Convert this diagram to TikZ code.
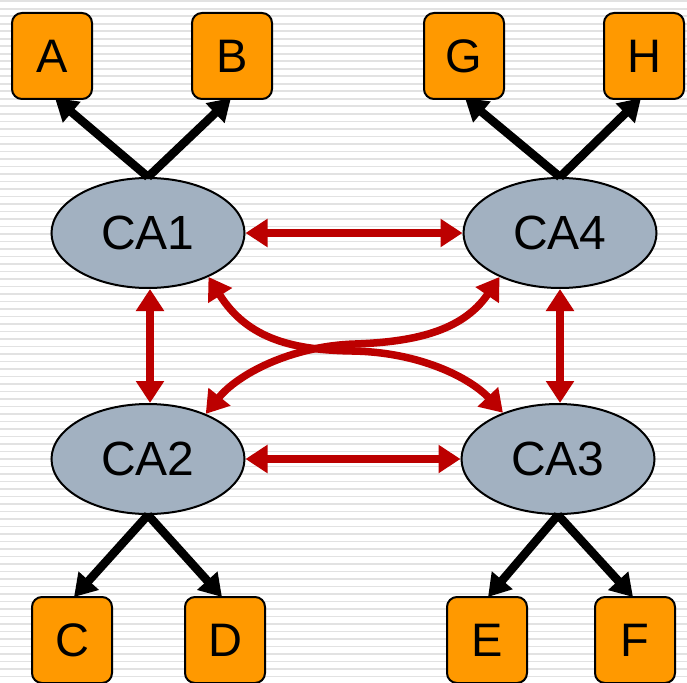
\documentclass[tikz,border=0pt]{standalone}
\usepackage{fontspec}
\setmainfont{Liberation Sans}
\usetikzlibrary{arrows.meta,shapes.geometric}
\definecolor{boxorange}{HTML}{FF9900}
\definecolor{cagrey}{HTML}{A2B1C1}
\definecolor{linkred}{HTML}{BC0000}
\definecolor{stripe}{HTML}{E2E2E2}
\tikzset{
  leaf/.style={draw=black,line width=2pt,fill=boxorange,rounded corners=10pt,minimum width=80pt,minimum height=86pt,inner sep=0pt,font=\fontsize{47}{47}\selectfont},
  ca/.style={ellipse,draw=black,line width=2pt,fill=cagrey,minimum width=193pt,minimum height=110pt,inner sep=0pt,font=\fontsize{48}{48}\selectfont},
  tree/.style={line width=8.5pt,-{Triangle[length=22pt,width=26pt]}},
  peer/.style={line width=7.5pt,draw=linkred,{Triangle[length=22pt,width=27pt]}-{Triangle[length=22pt,width=27pt]}},
}
\begin{document}
\begin{tikzpicture}[x=1pt,y=-1pt]
\path[use as bounding box] (0,0) rectangle (687,682);
\fill[white] (0,0) rectangle (687,682);
\foreach \k in {0,...,90} {
  \fill[stripe] (0,{0.5+7.5*\k}) rectangle (687,{2.2+7.5*\k});
}
\begin{scope}
\clip (0,0) rectangle (687,682);
\node[leaf] (A) at (52,56) {A};
\node[leaf] (B) at (232,56) {B};
\node[leaf] (G) at (464,56) {G};
\node[leaf] (H) at (644,56) {H};
\node[leaf] (C) at (72,640) {C};
\node[leaf] (D) at (225,640) {D};
\node[leaf] (E) at (487,640) {E};
\node[leaf] (F) at (635,640) {F};
\end{scope}
\node[ca] (CA1) at (148,233) {CA1};
\node[ca] (CA4) at (560,233) {CA4};
\node[ca] (CA2) at (148,459) {CA2};
\node[ca] (CA3) at (558,459) {CA3};
\coordinate (a1) at (55,98);
\coordinate (b1) at (231,98);
\coordinate (g1) at (465,98);
\coordinate (h1) at (641,98);
\coordinate (c1) at (74,597);
\coordinate (d1) at (222,597);
\coordinate (e1) at (488,597);
\coordinate (f1) at (633,597);
\draw[tree] (CA1.north) -- (a1);
\draw[tree] (CA1.north) -- (b1);
\draw[tree] (CA4.north) -- (g1);
\draw[tree] (CA4.north) -- (h1);
\draw[tree] (CA2.south) -- (c1);
\draw[tree] (CA2.south) -- (d1);
\draw[tree] (CA3.south) -- (e1);
\draw[tree] (CA3.south) -- (f1);
\draw[peer] (CA1.east) -- (CA4.west);
\draw[peer] (CA2.east) -- (CA3.west);
\draw[peer] (CA1.south -| 150,0) -- (CA2.north -| 150,0);
\draw[peer] (CA4.south -| 560,0) -- (CA3.north -| 560,0);
\draw[peer] (CA1.-36) .. controls (248,340) and (295,350) .. (352,351) .. controls (420,352) and (470,378) .. (CA3.140);
\draw[peer] (CA4.216) .. controls (462,332) and (412,342) .. (355,344) .. controls (290,346) and (237,375) .. (CA2.38);
\end{tikzpicture}
\end{document}
